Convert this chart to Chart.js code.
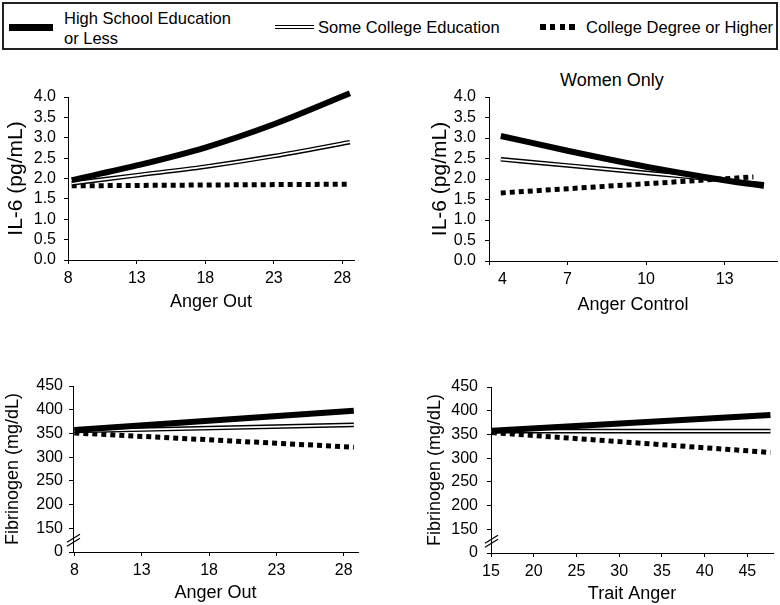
<!DOCTYPE html>
<html>
<head>
<meta charset="utf-8">
<script src="https://cdn.jsdelivr.net/npm/chart.js@4.4.1/dist/chart.umd.min.js"></script>
<style>
body{margin:0;width:780px;height:605px;background:#fff;position:relative;overflow:hidden;font-family:'Liberation Sans',Arial,sans-serif;color:#000}
canvas{position:absolute}
#legendBox{position:absolute;left:2px;top:2px;width:772px;height:44px;border:2px solid #222}
.txt{position:absolute;font-size:16.5px;line-height:20px;white-space:nowrap}
#hsKey{position:absolute;left:9px;top:24px;width:44px;height:7px;background:#000}
#scKey{position:absolute;left:275px;top:25px;width:39px;height:2px;border-top:1.5px solid #000;border-bottom:1.5px solid #000}
#cdKey{position:absolute;left:540px;top:24px;width:35px;height:6px;background:repeating-linear-gradient(to right,#000 0 5.5px,transparent 5.5px 9.8px)}
#women{position:absolute;left:560px;top:69px;font-size:18px;line-height:22px;white-space:nowrap}
</style>
</head>
<body>
<div id="legendBox"></div>
<div id="hsKey"></div>
<div class="txt" style="left:64px;top:8px">High School Education<br>or Less</div>
<div id="scKey"></div>
<div class="txt" style="left:318px;top:17px">Some College Education</div>
<div id="cdKey"></div>
<div class="txt" style="left:586px;top:17px">College Degree or Higher</div>
<div id="women">Women Only</div>

<canvas id="c1" width="390" height="255" style="left:0;top:60px"></canvas>
<canvas id="c2" width="355" height="256" style="left:425px;top:60px"></canvas>
<canvas id="c3" width="390" height="245" style="left:0;top:360px"></canvas>
<canvas id="c4" width="360" height="245" style="left:420px;top:360px"></canvas>

<script>
// values
const seriesNames = ['High School Education or Less', 'Some College Education', 'College Degree or Higher'];

// IL-6 by anger out
const outX = [8.25, 13, 18, 23, 28.55];
const il6OutHS = [1.96, 2.32, 2.76, 3.33, 4.09];
const il6OutSC = [1.88, 2.08, 2.29, 2.55, 2.89];
const il6OutCD = [1.82, 1.83, 1.84, 1.85, 1.86];

// IL-6 by anger control, women only
const ctrlX = [4.45, 7, 10, 13, 14.5];
const il6CtrlHS = [3.05, 2.69, 2.30, 1.97, 1.83];
const il6CtrlSC = [2.48, 2.33, 2.15, 1.97, 1.87];
const ctrlXCD = [4.45, 14.1];
const il6CtrlCD = [1.66, 2.05];

// fibrinogen by anger out
const fibOutX = [8, 28.75];
const fibOutHS = [357, 398];
const fibOutSC = [355, 368];
const fibOutCD = [351, 321];

// fibrinogen by trait anger
const traitX = [15.1, 47.7];
const fibTraitHS = [358, 391];
const fibTraitSC = [357, 357];
const fibTraitCD = [354, 312];

// ticks
const il6Ticks = [0, 0.5, 1, 1.5, 2, 2.5, 3, 3.5, 4];
const il6TickLabels = ['0.0', '0.5', '1.0', '1.5', '2.0', '2.5', '3.0', '3.5', '4.0'];
const fibTicks = [100, 150, 200, 250, 300, 350, 400, 450];
const fibTickLabels = ['0', '150', '200', '250', '300', '350', '400', '450'];
const outTicks = [8, 13, 18, 23, 28];
const outTickLabels = ['8', '13', '18', '23', '28'];
const ctrlTicks = [4, 7, 10, 13];
const ctrlTickLabels = ['\u2007\u2007\u20074', '7', '10', '13'];
const traitTicks = [15, 20, 25, 30, 35, 40, 45];
const traitTickLabels = ['15', '20', '25', '30', '35', '40', '45'];

Chart.defaults.font.family = "'Liberation Sans', Arial, sans-serif";
Chart.defaults.color = '#000';

const pts = (xs, ys) => xs.map((x, i) => ({ x: x, y: ys[i] }));

function lines(xHS, hs, xSC, sc, xCD, cd) {
    const mode = hs.length > 2 ? 'monotone' : 'default';
    return [
        { label: seriesNames[0], data: pts(xHS, hs), borderColor: '#000', borderWidth: 6, order: 0,
          cubicInterpolationMode: mode, clip: false },
        { label: '', data: pts(xSC, sc), borderColor: '#fff', borderWidth: 1.8, order: 1,
          cubicInterpolationMode: mode, clip: false },
        { label: seriesNames[1], data: pts(xSC, sc), borderColor: '#000', borderWidth: 4.6, order: 2,
          cubicInterpolationMode: mode, clip: false },
        { label: seriesNames[2], data: pts(xCD, cd), borderColor: '#000', borderWidth: 5, borderDash: [5, 4],
          order: 3, clip: false }
    ];
}

// "//" axis break on the fibrinogen axes
const axisBreak = {
    id: 'axisBreak',
    afterDraw(chart, args, opts) {
        if (!opts.on) return;
        const c = chart.ctx;
        const x = chart.chartArea.left;
        const y = chart.scales.y.getPixelForValue(125);
        c.save();
        c.strokeStyle = '#000';
        c.lineWidth = 1.2;
        c.beginPath();
        c.moveTo(x - 6, y + 2); c.lineTo(x + 7, y - 6);
        c.moveTo(x - 6, y + 6); c.lineTo(x + 7, y - 2);
        c.stroke();
        c.restore();
    }
};

function axis(min, max, ticks, labels, title, pad, titleSize) {
    return {
        type: 'linear', min: min, max: max,
        border: { display: true, color: '#000', width: 1 },
        grid: { drawOnChartArea: false, drawTicks: true, tickLength: 4, color: '#000' },
        ticks: { font: { size: 16 }, color: '#000', padding: pad, autoSkip: false, maxRotation: 0,
                 callback: (v, i) => labels[i] },
        title: { display: true, text: title, font: { size: titleSize || 18 }, color: '#000', padding: 0 },
        afterBuildTicks: s => { s.ticks = ticks.map(v => ({ value: v })); }
    };
}

function make(id, box, area, xAx, yAx, datasets, brk) {
    const padL = box.padL;
    const yW = area.l - box.l - padL;
    const xH = box.xH;
    xAx.afterFit = s => { s.height = xH; };
    yAx.afterFit = s => { s.width = yW; };
    return new Chart(document.getElementById(id), {
        type: 'line',
        data: { datasets: datasets },
        options: {
            responsive: false, animation: false, devicePixelRatio: 1,
            layout: { padding: { left: padL, top: area.t - box.t, right: box.l + box.w - area.r,
                                 bottom: box.t + box.h - area.b - xH } },
            elements: { point: { radius: 0 }, line: { borderCapStyle: 'butt', fill: false } },
            plugins: { legend: { display: false }, tooltip: { enabled: false }, axisBreak: { on: brk } },
            scales: { x: xAx, y: yAx }
        },
        plugins: [axisBreak]
    });
}

make('c1', { l: 0, t: 60, w: 390, h: 255, padL: 4, xH: 53 }, { l: 68, t: 97, r: 354, b: 260 },
    axis(7.98, 28.85, outTicks, outTickLabels, 'Anger Out', 5),
    axis(0, 4, il6Ticks, il6TickLabels, 'IL-6 (pg/mL)', 8, 21),
    lines(outX, il6OutHS, outX, il6OutSC, outX, il6OutCD), false);

make('c2', { l: 425, t: 60, w: 355, h: 256, padL: 3, xH: 55 }, { l: 489, t: 97, r: 777, b: 261 },
    axis(4, 15, ctrlTicks, ctrlTickLabels, 'Anger Control', 5),
    axis(0, 4, il6Ticks, il6TickLabels, 'IL-6 (pg/mL)', 9, 21),
    lines(ctrlX, il6CtrlHS, ctrlX, il6CtrlSC, ctrlXCD, il6CtrlCD), false);

make('c3', { l: 0, t: 360, w: 390, h: 245, padL: 2, xH: 52 }, { l: 73, t: 386, r: 358, b: 552 },
    axis(7.9, 29.06, outTicks, outTickLabels, 'Anger Out', 5),
    axis(100, 450, fibTicks, fibTickLabels, 'Fibrinogen (mg/dL)', 6),
    lines(fibOutX, fibOutHS, fibOutX, fibOutSC, fibOutX, fibOutCD), true);

make('c4', { l: 420, t: 360, w: 360, h: 245, padL: 4, xH: 52 }, { l: 491, t: 387, r: 773, b: 553 },
    axis(15, 48, traitTicks, traitTickLabels, 'Trait Anger', 5),
    axis(100, 450, fibTicks, fibTickLabels, 'Fibrinogen (mg/dL)', 9),
    lines(traitX, fibTraitHS, traitX, fibTraitSC, traitX, fibTraitCD), true);
</script>
</body>
</html>
